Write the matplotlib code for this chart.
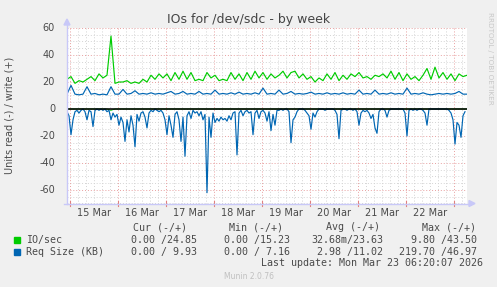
import matplotlib
matplotlib.use("Agg")
import matplotlib.pyplot as plt
from matplotlib.patches import Rectangle, Polygon

# ---------------- data ----------------
title = "IOs for /dev/sdc - by week"
ylabel = "Units read (-) / write (+)"
day_labels = ["15 Mar", "16 Mar", "17 Mar", "18 Mar", "19 Mar", "20 Mar", "21 Mar", "22 Mar"]
y_ticks = [-60, -40, -20, 0, 20, 40, 60]

# write series sampled every 2 hours (hours from Mar 14 22:20)
io_write = [22, 24, 19, 21, 20, 22, 24, 21, 26, 23, 25, 54, 19, 20, 20, 21, 19, 20, 19, 22,
            20, 25, 22, 26, 23, 26, 21, 27, 22, 28, 22, 27, 21, 22, 21, 27, 23, 25, 21, 22,
            21, 27, 22, 26, 21, 27, 22, 28, 23, 27, 22, 26, 23, 25, 28, 23, 27, 28, 23, 26,
            22, 24, 20, 23, 21, 26, 22, 27, 21, 25, 22, 26, 24, 27, 23, 24, 22, 25, 24, 26,
            23, 28, 22, 27, 21, 26, 22, 24, 21, 25, 30, 22, 31, 23, 27, 22, 26, 21, 26, 24, 25]
req_write = [11, 17.5, 11, 10.5, 11, 16.5, 11, 11.5, 10.5, 11, 10.5, 16.5, 11, 11, 14.5, 11, 11.5, 13.5, 11, 11.5,
             11, 12, 11, 11.5, 11, 12, 13, 11, 11.5, 13, 11, 11.5, 11, 13, 11, 11.5, 11, 14, 11, 11.5,
             11, 12, 11, 12.5, 11, 11.5, 11, 12, 11, 15.5, 11, 11.5, 11, 14, 11, 11.5, 13, 11, 11.5, 11,
             11.5, 12.5, 11, 11.5, 11, 12, 11, 11.5, 11, 12, 11, 11.5, 11, 14, 11, 11.5, 11, 14, 11, 11.5,
             11, 12, 11, 11.5, 11, 15.5, 11, 11.5, 11, 12, 11, 10.5, 11, 11.5, 11, 11.5, 11, 11.5, 13, 11, 11]
io_read = [0, 0, 0, 0, 0, 0, 0, 0, 0, 0, 0, -1, 0, 0, 0, 0, 0, 0, 0, 0,
           0, 0, 0, 0, 0, 0, 0, 0, 0, 0, 0, 0, 0, 0, 0, 0, 0, 0, 0, 0,
           0, 0, 0, 0, 0, 0, 0, 0, 0, 0, 0, 0, 0, 0, 0, 0, 0, 0, 0, 0,
           0, 0, 0, 0, 0, 0, 0, 0, 0, 0, 0, 0, 0, 0, 0, 0, 0, 0, 0, 0,
           0, 0, 0, 0, 0, 0, 0, 0, 0, 0, 0, 0, 0, 0, 0, 0, 0, 0, 0, 0, 0]
# read request size sampled every hour (negative side)
req_read = [-2, -5, -19, -8, -2, -1, -3, -1, 0, -2, -8, -1, -2, -13, -1, 0, -1, 0, -1, 0,
            -2, -1, -8, -3, -6, -4, -12, -6, -10, -24, -8, -17, -5, -12, -28, -4, -9, -3, -2, -6,
            -14, -3, -1, -2, 0, -1, -2, -1, -3, -8, -19, -5, -12, -21, -4, -2, -8, -24, -6, -35,
            -5, -2, -7, -1, -3, -2, -5, -2, -8, -4, -62, -6, -21, -3, -10, -7, -9, -6, -8, -7,
            -9, -5, -8, -3, -2, -34, -3, -1, -5, -2, -1, -3, -2, -19, -3, -1, -7, -2, -1, -3,
            -9, -2, -16, -4, -12, -1, -1, 0, -1, 0, 0, -2, -25, -8, -6, -2, 0, 0, 0, -1,
            -3, -5, -15, -3, -6, -2, 0, 0, 0, -1, 0, 0, 0, 0, -1, -4, -22, -1, 0, 0,
            -1, 0, 0, -1, 0, -2, -12, -3, -1, -2, -1, -3, -7, -4, -14, -18, -2, 0, 0, -1,
            -6, -1, 0, 0, 0, 0, 0, 0, 0, -3, -20, -1, 0, -1, 0, -1, 0, 0, -1, -3,
            -12, 0, 0, 0, 0, 0, 0, 0, 0, 0, 0, -1, -3, -8, -26, -10, -12, -21, -5, -2]

legend_header = ["Cur (-/+)", "Min (-/+)", "Avg (-/+)", "Max (-/+)"]
legend_names = ["IO/sec", "Req Size (KB)"]
legend_values = [["0.00 /24.85", "0.00 /15.23", "32.68m/23.63", "9.80 /43.50"],
                 ["0.00 / 9.93", "0.00 / 7.16", "2.98 /11.02", "219.70 /46.97"]]
last_update = "Last update: Mon Mar 23 06:20:07 2026"
footer = "Munin 2.0.76"

# ---------------- style ----------------
GREEN = "#00CC00"
BLUE = "#0066B3"
TXT = "#4a4a4a"
W, H = 497, 287
span_h = 200.0            # hours shown
midnight0 = 1 + 40 / 60   # Mar 15 00:00 in hours from left edge

fig = plt.figure(figsize=(W / 100, H / 100), dpi=100, facecolor="#F0F0F0")
x0, x1 = 67, 467
ytop, ybot = 28, 203.5
ax = fig.add_axes([x0 / W, 1 - ybot / H, (x1 - x0) / W, (ybot - ytop) / H])
ax.set_facecolor("white")
ax.set_xlim(0, span_h)
ax.set_ylim(-70, 60)
for s in ax.spines.values():
    s.set_visible(False)
ax.tick_params(length=0, labelbottom=False, labelleft=False)

# grid
dot = (0, (1, 2))
for v in range(-70, 61, 5):
    if v % 20 == 0:
        continue
    ax.axhline(v, color="#D4D4D4", lw=0.7, ls=dot, zorder=1)
for v in y_ticks:
    ax.axhline(v, color="#E8A0A0", lw=0.7, ls=dot, zorder=1)
h = midnight0 - 20
while h < span_h:
    if h > 0:
        major = abs(((h - midnight0) / 24) - round((h - midnight0) / 24)) < 1e-6
        ax.axvline(h, color="#E8A0A0" if major else "#D4D4D4", lw=0.7, ls=dot, zorder=1)
    h += 4

# data
t2 = [2 * i for i in range(len(io_write))]
t1 = [i for i in range(len(req_read))]
ax.plot(t2, io_write, color=GREEN, lw=0.85, zorder=3)
ax.plot(t2, req_write, color=BLUE, lw=0.85, zorder=3)
ax.plot(t2, io_read, color=GREEN, lw=0.6, zorder=2)
ax.plot(t1, req_read, color=BLUE, lw=0.85, zorder=3)
ax.axhline(0, color="black", lw=1.15, zorder=4)

# axes lines with arrows (figure coords in pixels)
def fx(px):
    return px / W

def fy(py):
    return 1 - py / H

AX = "#C8C8F8"
fig.add_artist(plt.Line2D([fx(67), fx(67)], [fy(204), fy(24)], color=AX, lw=1.0))
fig.add_artist(plt.Line2D([fx(64), fx(470)], [fy(203.5), fy(203.5)], color=AX, lw=1.0))
fig.add_artist(Polygon([[fx(64), fy(25)], [fx(70), fy(25)], [fx(67), fy(19)]], closed=True,
                       color=AX, transform=fig.transFigure))
fig.add_artist(Polygon([[fx(469), fy(200.5)], [fx(469), fy(206.5)], [fx(475), fy(203.5)]], closed=True,
                       color=AX, transform=fig.transFigure))
# red ticks at midnights
for k in range(9):
    hh = midnight0 + 24 * k
    if hh < span_h:
        ax.plot([hh, hh], [-71.5, -68.5], color="#E08080", lw=0.8, clip_on=False, zorder=5)

# y tick labels
for v in y_ticks:
    ax.text(-6, v, str(v), ha="right", va="center", fontsize=7, color=TXT,
            transform=ax.transData, clip_on=False)
# day labels
for k, lab in enumerate(day_labels):
    ax.text(midnight0 + 12 + 24 * k, -77, lab, ha="center", va="center", fontsize=7,
            color=TXT, clip_on=False)

fig.text(0.5, fy(19), title, ha="center", va="center", fontsize=9, color="#444444")
fig.text(fx(10), fy(115), ylabel, rotation=90, ha="center", va="center", fontsize=7, color=TXT)
fig.text(fx(490), fy(58), "RRDTOOL / TOBI OETIKER", rotation=270, ha="center", va="center",
         fontsize=5.2, color="#C8C8C8")

mono = "DejaVu Sans Mono"
FS = 7.2
hdr_right = [187, 283, 380, 476]
val_right = [197, 290, 383, 477]
for xr, s in zip(hdr_right, legend_header):
    fig.text(fx(xr), fy(227.5), s, ha="right", va="center", fontsize=FS, family=mono, color=TXT)
rows_y = [239.7, 251.7]
colors = [GREEN, BLUE]
for ry, name, c, vals in zip(rows_y, legend_names, colors, legend_values):
    fig.add_artist(Rectangle((fx(14), fy(ry + 3)), 6 / W, 6 / H, color=c, transform=fig.transFigure))
    fig.text(fx(26), fy(ry), name, ha="left", va="center", fontsize=FS, family=mono, color=TXT)
    for xr, s in zip(val_right, vals):
        fig.text(fx(xr), fy(ry), s, ha="right", va="center", fontsize=FS, family=mono, color=TXT)
fig.text(fx(483), fy(263.5), last_update, ha="right", va="center", fontsize=FS, family=mono, color=TXT)
fig.text(0.5, fy(276.5), footer, ha="center", va="center", fontsize=5.5, color="#C0C0C0")

fig.savefig("out.png", dpi=100, facecolor=fig.get_facecolor())
